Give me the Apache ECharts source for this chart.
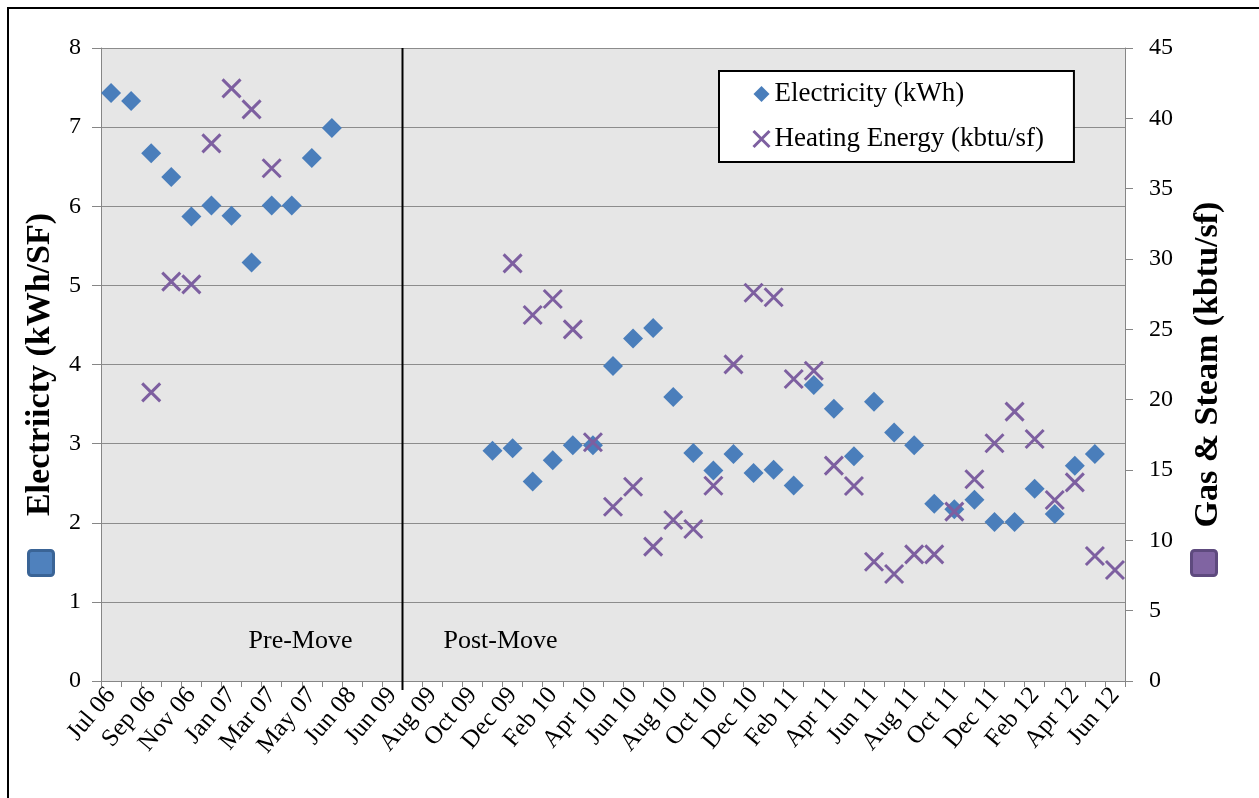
<!DOCTYPE html>
<html>
<head>
<meta charset="utf-8">
<script src="https://cdn.jsdelivr.net/npm/echarts@6/dist/echarts.min.js"></script>
<style>
  html, body { margin: 0; padding: 0; background: #fff; }
  #chart { width: 1259px; height: 798px; }
</style>
</head>
<body>
<div id="chart"></div>
<script>
const categories = ['Jul 06','Aug 06','Sep 06','Oct 06','Nov 06','Dec 06','Jan 07','Feb 07','Mar 07','Apr 07','May 07','Jun 07',
  'Jun 08','Dec 08','Jun 09','Jul 09','Aug 09','Sep 09','Oct 09','Nov 09','Dec 09',
  'Jan 10','Feb 10','Mar 10','Apr 10','May 10','Jun 10','Jul 10','Aug 10','Sep 10','Oct 10','Nov 10','Dec 10',
  'Jan 11','Feb 11','Mar 11','Apr 11','May 11','Jun 11','Jul 11','Aug 11','Sep 11','Oct 11','Nov 11','Dec 11',
  'Jan 12','Feb 12','Mar 12','Apr 12','May 12','Jun 12'];

const electricity = [7.43,7.33,6.67,6.37,5.87,6.01,5.88,5.29,6.01,6.01,6.61,6.99,
  null,null,null,null,null,null,null,
  2.91,2.94,2.52,2.79,2.98,2.98,3.98,4.33,4.46,3.59,
  2.88,2.66,2.87,2.63,2.67,2.47,3.74,3.44,2.84,3.53,
  3.14,2.98,2.24,2.17,2.29,2.01,2.01,2.43,2.11,2.72,2.87,null];

const heating = [null,null,20.52,28.39,28.2,38.22,42.13,40.64,36.45,
  null,null,null,null,null,null,null,null,null,null,null,
  29.69,26.02,27.16,25.0,16.97,12.39,13.81,9.55,11.45,10.81,
  13.88,22.51,27.6,27.28,21.47,22.06,15.31,13.86,8.48,7.61,
  9.0,9.0,12.04,14.34,16.9,19.15,17.2,12.87,14.12,8.89,7.89];

const seriesNames = ['Electricity (kWh)', 'Heating Energy (kbtu/sf)'];
const leftAxisTitle = 'Electriicty (kWh/SF)';
const rightAxisTitle = 'Gas & Steam (kbtu/sf)';
const phaseLabels = ['Pre-Move', 'Post-Move'];
const moveBoundary = ['Jun 09', 'Jul 09'];

const FONT = '"Liberation Serif", "Times New Roman", serif';
const BLUE = '#4A7EBB';
const PURPLE = '#7D5FA0';
const AXIS = '#868686';
const CROSS = 'path://M0,0L18,18M18,0L0,18';

const chart = echarts.init(document.getElementById('chart'), null, { renderer: 'canvas' });

const option = {
  animation: false,
  backgroundColor: '#fff',
  textStyle: { fontFamily: FONT },
  grid: {
    left: 101, right: 134, top: 48, bottom: 117,
    show: true, backgroundColor: '#E6E6E6', borderWidth: 0
  },
  legend: {
    orient: 'vertical',
    left: 719, top: 71,
    backgroundColor: '#fff',
    borderColor: '#000', borderWidth: 2, borderRadius: 0,
    padding: [8, 30, 8, 33],
    itemGap: 15,
    itemWidth: 16, itemHeight: 16,
    textStyle: { fontFamily: FONT, fontSize: 27, color: '#000', lineHeight: 30 },
    data: [
      { name: seriesNames[0], icon: 'diamond', itemStyle: { color: BLUE } },
      { name: seriesNames[1], icon: CROSS, itemStyle: { color: 'transparent', borderColor: PURPLE, borderWidth: 3 } }
    ]
  },
  xAxis: {
    type: 'category',
    data: categories,
    boundaryGap: true,
    axisLine: { lineStyle: { color: AXIS, width: 1 } },
    axisTick: { show: true, interval: 0, length: 6, lineStyle: { color: AXIS } },
    axisLabel: {
      interval: 1, rotate: 50, margin: 10,
      fontFamily: FONT, fontSize: 25, color: '#000'
    },
    splitLine: { show: false }
  },
  yAxis: [
    {
      type: 'value', min: 0, max: 8, interval: 1, position: 'left',
      name: leftAxisTitle, nameLocation: 'middle', nameRotate: 90, nameGap: 44,
      nameTextStyle: { fontFamily: FONT, fontSize: 34, fontWeight: 'bold', color: '#000' },
      axisLine: { show: true, lineStyle: { color: AXIS } },
      axisTick: { show: true, length: 9, lineStyle: { color: AXIS } },
      axisLabel: { margin: 20, fontFamily: FONT, fontSize: 24, color: '#000' },
      splitLine: { show: true, lineStyle: { color: '#8C8C8C', width: 1 } }
    },
    {
      type: 'value', min: 0, max: 45, interval: 5, position: 'right',
      name: rightAxisTitle, nameLocation: 'middle', nameRotate: 90, nameGap: 66,
      nameTextStyle: { fontFamily: FONT, fontSize: 34, fontWeight: 'bold', color: '#000' },
      axisLine: { show: true, lineStyle: { color: AXIS } },
      axisTick: { show: true, length: 8, lineStyle: { color: AXIS } },
      axisLabel: { margin: 24, fontFamily: FONT, fontSize: 24, color: '#000' },
      splitLine: { show: false }
    }
  ],
  series: [
    {
      name: seriesNames[0], type: 'scatter', yAxisIndex: 0,
      symbol: 'diamond', symbolSize: 20,
      itemStyle: { color: BLUE, opacity: 1 },
      data: electricity, z: 3
    },
    {
      name: seriesNames[1], type: 'scatter', yAxisIndex: 1,
      symbol: CROSS, symbolSize: 18,
      itemStyle: { color: 'transparent', borderColor: PURPLE, borderWidth: 3, opacity: 1 },
      data: heating, z: 4
    }
  ]
};
chart.setOption(option);

// Annotations placed relative to the axes
const xa = chart.convertToPixel({ xAxisIndex: 0 }, moveBoundary[0]);
const xb = chart.convertToPixel({ xAxisIndex: 0 }, moveBoundary[1]);
const lineX = Math.round((xa + xb) / 2) + 0.5;
const yTop = chart.convertToPixel({ yAxisIndex: 0 }, 8);
const yBottom = chart.convertToPixel({ yAxisIndex: 0 }, 0);
const labelY = chart.convertToPixel({ yAxisIndex: 0 }, 0.5);

chart.setOption({
  graphic: [
    { type: 'rect', shape: { x: 8, y: 8, width: 1400, height: 1000 },
      style: { fill: 'none', stroke: '#000', lineWidth: 2 }, silent: true, z: 10 },
    { type: 'line', shape: { x1: lineX, y1: yTop, x2: lineX, y2: yBottom + 9 },
      style: { stroke: '#000', lineWidth: 2 }, z: 10 },
    { type: 'text', x: lineX - 102, y: labelY, z: 10,
      style: { text: phaseLabels[0], fontFamily: FONT, fontSize: 26, fill: '#000', align: 'center', verticalAlign: 'middle' } },
    { type: 'text', x: lineX + 98, y: labelY, z: 10,
      style: { text: phaseLabels[1], fontFamily: FONT, fontSize: 26, fill: '#000', align: 'center', verticalAlign: 'middle' } },
    { type: 'rect', shape: { x: 28.5, y: 550.5, width: 25, height: 25, r: 3 },
      style: { fill: '#4F81BD', stroke: '#3A6496', lineWidth: 3 }, z: 10 },
    { type: 'rect', shape: { x: 1191.5, y: 550.5, width: 25, height: 25, r: 3 },
      style: { fill: '#8064A2', stroke: '#5E4A7E', lineWidth: 3 }, z: 10 }
  ]
});
</script>
</body>
</html>
